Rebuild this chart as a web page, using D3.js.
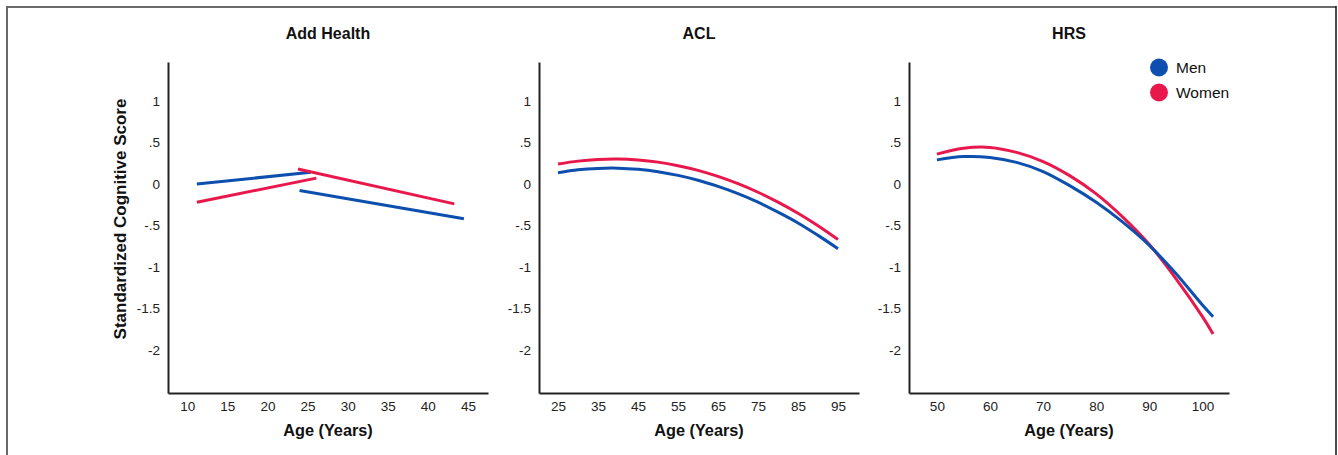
<!DOCTYPE html>
<html>
<head>
<meta charset="utf-8">
<script src="https://cdn.jsdelivr.net/npm/d3@7"></script>
<style>
  html, body { margin: 0; padding: 0; background: #fff; }
  svg { display: block; font-family: "Liberation Sans", Arial, Helvetica, sans-serif; }
</style>
</head>
<body>
<svg id="chart" width="1338" height="455"></svg>
<script>
// ---- Data ----
const panelTitles = ["Add Health", "ACL", "HRS"];
const seriesNames = ["Men", "Women"];
const yTicks = [1, 0.5, 0, -0.5, -1, -1.5, -2];
const yDomain = [-2.52, 1.47];

const addHealthXTicks = [10, 15, 20, 25, 30, 35, 40, 45];
const aclXTicks = [25, 35, 45, 55, 65, 75, 85, 95];
const hrsXTicks = [50, 60, 70, 80, 90, 100];

const addHealthXDomain = [7.6, 47.5];
const aclXDomain = [20.25, 100.25];
const hrsXDomain = [44.75, 105];

// Add Health: two segments per series (adolescence wave / adulthood wave)
const addHealthMenEarly   = [[11.2, 0.00], [25.4, 0.14]];
const addHealthMenLate    = [[24.0, -0.08], [44.5, -0.42]];
const addHealthWomenEarly = [[11.2, -0.22], [26.1, 0.07]];
const addHealthWomenLate  = [[23.8, 0.18], [43.3, -0.24]];

// ACL
const aclAges = [25, 30, 35, 40, 45, 50, 55, 60, 65, 70, 75, 80, 85, 90, 95];
const aclMen   = [0.135, 0.17, 0.187, 0.19, 0.176, 0.147, 0.103, 0.045, -0.03, -0.117, -0.22, -0.34, -0.47, -0.62, -0.78];
const aclWomen = [0.24, 0.275, 0.295, 0.30, 0.289, 0.263, 0.22, 0.164, 0.091, 0.003, -0.10, -0.22, -0.354, -0.504, -0.67];

// HRS
const hrsAges = [50, 55, 60, 65, 70, 75, 80, 85, 90, 95, 100, 102];
const hrsMen   = [0.29, 0.33, 0.32, 0.26, 0.15, -0.02, -0.22, -0.46, -0.74, -1.08, -1.46, -1.60];
const hrsWomen = [0.36, 0.43, 0.44, 0.38, 0.27, 0.10, -0.12, -0.40, -0.73, -1.14, -1.60, -1.81];

// ---- Styling / layout ----
const colors = { Men: "#0c4fae", Women: "#e8184c" };
const panelLefts = [168, 539, 909];
const panelWidth = 320;
const plotTop = 62, plotBottom = 393;
const tickFont = 13.5;

const svg = d3.select("#chart");

// Frame
svg.append("line").attr("x1", 7).attr("x2", 1336).attr("y1", 7).attr("y2", 7)
  .attr("stroke", "#6a6a6a").attr("stroke-width", 2);
svg.append("line").attr("x1", 7).attr("x2", 7).attr("y1", 6).attr("y2", 455)
  .attr("stroke", "#6a6a6a").attr("stroke-width", 2);
svg.append("line").attr("x1", 1336).attr("x2", 1336).attr("y1", 6).attr("y2", 455)
  .attr("stroke", "#111").attr("stroke-width", 1.5);

const y = d3.scaleLinear().domain(yDomain).range([plotBottom, plotTop]);
const fmt = d => String(d).replace("0.", ".");

const panels = [
  { title: panelTitles[0], xDomain: addHealthXDomain, xTicks: addHealthXTicks,
    lines: [
      { name: "Men", pts: addHealthMenEarly }, { name: "Men", pts: addHealthMenLate },
      { name: "Women", pts: addHealthWomenEarly }, { name: "Women", pts: addHealthWomenLate }
    ], curve: d3.curveLinear },
  { title: panelTitles[1], xDomain: aclXDomain, xTicks: aclXTicks,
    lines: [
      { name: "Women", pts: aclAges.map((a, i) => [a, aclWomen[i]]) },
      { name: "Men", pts: aclAges.map((a, i) => [a, aclMen[i]]) }
    ], curve: d3.curveCatmullRom.alpha(0.5) },
  { title: panelTitles[2], xDomain: hrsXDomain, xTicks: hrsXTicks,
    lines: [
      { name: "Women", pts: hrsAges.map((a, i) => [a, hrsWomen[i]]) },
      { name: "Men", pts: hrsAges.map((a, i) => [a, hrsMen[i]]) }
    ], curve: d3.curveCatmullRom.alpha(0.5) }
];

panels.forEach((p, pi) => {
  const left = panelLefts[pi];
  const x = d3.scaleLinear().domain(p.xDomain).range([left, left + panelWidth]);
  const g = svg.append("g");

  // Y axis
  const ya = g.append("g").attr("transform", `translate(${left},0)`)
    .call(d3.axisLeft(y).tickValues(yTicks).tickFormat(fmt).tickSize(0).tickSizeOuter(0).tickPadding(8));
  ya.select(".domain").attr("stroke", "#222").attr("stroke-width", 2);
  ya.selectAll("text").attr("font-size", tickFont).attr("fill", "#222")
    .attr("font-family", "'Liberation Sans', Arial, sans-serif");

  // X axis
  const xa = g.append("g").attr("transform", `translate(0,${plotBottom})`)
    .call(d3.axisBottom(x).tickValues(p.xTicks).tickFormat(d3.format("d")).tickSize(0).tickSizeOuter(0).tickPadding(8));
  xa.select(".domain").attr("stroke", "#222").attr("stroke-width", 2);
  xa.selectAll("text").attr("font-size", tickFont).attr("fill", "#222")
    .attr("font-family", "'Liberation Sans', Arial, sans-serif");

  // Title
  g.append("text").attr("x", left + panelWidth / 2).attr("y", 38.5)
    .attr("text-anchor", "middle").attr("font-weight", "bold").attr("font-size", 16)
    .attr("fill", "#111").text(p.title);

  // X label
  g.append("text").attr("x", left + panelWidth / 2).attr("y", 436)
    .attr("text-anchor", "middle").attr("font-weight", "bold").attr("font-size", 16.3)
    .attr("fill", "#111").text("Age (Years)");

  // Lines
  const line = d3.line().x(d => x(d[0])).y(d => y(d[1])).curve(p.curve);
  p.lines.forEach(l => {
    g.append("path").datum(l.pts).attr("d", line)
      .attr("fill", "none").attr("stroke", colors[l.name]).attr("stroke-width", 3);
  });
});

// Y axis title
svg.append("text")
  .attr("transform", "translate(126,219) rotate(-90)")
  .attr("text-anchor", "middle").attr("font-weight", "bold").attr("font-size", 17)
  .attr("fill", "#111").text("Standardized Cognitive Score");

// Legend
const legend = svg.append("g");
seriesNames.forEach((name, i) => {
  const cy = 67.5 + i * 25;
  legend.append("circle").attr("cx", 1159).attr("cy", cy).attr("r", 9).attr("fill", colors[name]);
  legend.append("text").attr("x", 1176).attr("y", cy + 5.5).attr("font-size", 15.5)
    .attr("fill", "#111").text(name);
});
</script>
</body>
</html>
